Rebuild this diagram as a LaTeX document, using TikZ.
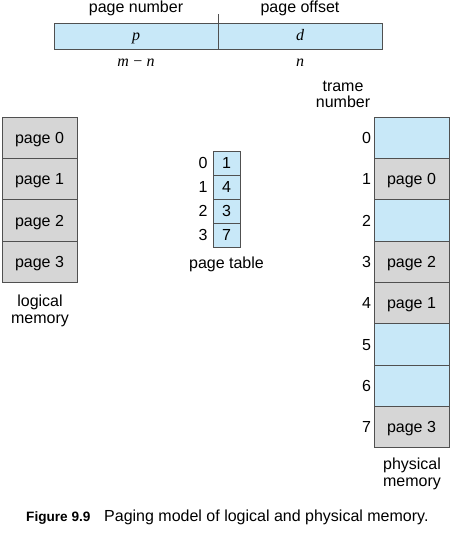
\documentclass[tikz,border=0pt]{standalone}
\usepackage{fontspec}
\setmainfont{Liberation Sans}
\newfontfamily\varfont{Liberation Serif}
\definecolor{memblue}{HTML}{C8E8F8}
\definecolor{memgray}{HTML}{D6D6D6}
\definecolor{memline}{HTML}{505050}
\newcommand{\var}[1]{{\varfont\itshape #1}}
\tikzset{
    lbl/.style={inner sep=0pt, anchor=base, font=\fontsize{16}{16.5}\selectfont, align=center},
    varlbl/.style={inner sep=0pt, anchor=base, font=\fontsize{16}{18}\selectfont},
    memcell/.style={draw=memline, line width=0.8pt, inner sep=0pt, outer sep=0pt, minimum width=75pt, minimum height=41.35pt,
        text height=11.5pt, text depth=0pt, font=\fontsize{16}{19}\selectfont},
    tabcell/.style={draw=memline, line width=0.8pt, fill=memblue, inner sep=0pt, outer sep=0pt, minimum width=27pt, minimum height=24pt,
        text height=11.5pt, text depth=0pt, font=\fontsize{16}{19}\selectfont},
    addrcell/.style={draw=memline, line width=0.8pt, fill=memblue, inner sep=0pt, outer sep=0pt, minimum width=164pt, minimum height=26pt,
        text height=10pt, text depth=0pt, font=\fontsize{16}{18}\selectfont},
    idx/.style={inner sep=0pt, text height=11.5pt, text depth=0pt, font=\fontsize{16}{19}\selectfont}
}
\begin{document}
\begin{tikzpicture}[x=1pt,y=-1pt]
        \useasboundingbox (0,0) rectangle (452,537);

        % logical address
        \node[addrcell] (p) at (136,36){\var{p}};
        \node[addrcell] (d) at (300,36){\var{d}};
        \coordinate (tick) at (218,14);
        \draw[memline, line width=0.8pt] (p.north east)--(tick);
        \node[lbl] (pnum) at (136,13){page number};
        \node[lbl] (poff) at (300,13){page offset};
        \node[varlbl] (mn) at (136,67){\var{m} {\varfont −} \var{n}};
        \node[varlbl] (n) at (300,67){\var{n}};

        % logical memory
        \node[memcell, fill=memgray] (L0) at (39.5,137.7){page 0};
        \node[memcell, fill=memgray] (L1) at (39.5,179.0){page 1};
        \node[memcell, fill=memgray] (L2) at (39.5,220.4){page 2};
        \node[memcell, fill=memgray] (L3) at (39.5,261.7){page 3};
        \node[lbl] (lmem) at (40,323){logical\\memory};

        % page table
        \node[tabcell] (T0) at (226.5,163){1};
        \node[tabcell] (T1) at (226.5,187){4};
        \node[tabcell] (T2) at (226.5,211){3};
        \node[tabcell] (T3) at (226.5,235){7};
        \node[idx] (i0) at (203,163){0};
        \node[idx] (i1) at (203,187){1};
        \node[idx] (i2) at (203,211){2};
        \node[idx] (i3) at (203,235){3};
        \node[lbl] (ptab) at (226.5,268){page table};

        % physical memory
        \node[lbl] (fnum) at (343,108){trame\\number};
        \node[memcell, fill=memblue] (F0) at (411.5,137.7){};
        \node[memcell, fill=memgray] (F1) at (411.5,179.0){page 0};
        \node[memcell, fill=memblue] (F2) at (411.5,220.4){};
        \node[memcell, fill=memgray] (F3) at (411.5,261.7){page 2};
        \node[memcell, fill=memgray] (F4) at (411.5,303.1){page 1};
        \node[memcell, fill=memblue] (F5) at (411.5,344.4){};
        \node[memcell, fill=memblue] (F6) at (411.5,385.8){};
        \node[memcell, fill=memgray] (F7) at (411.5,427.1){page 3};
        \node[idx] (f0) at (366.5,137.7){0};
        \node[idx] (f1) at (366.5,179.0){1};
        \node[idx] (f2) at (366.5,220.4){2};
        \node[idx] (f3) at (366.5,261.7){3};
        \node[idx] (f4) at (366.5,303.1){4};
        \node[idx] (f5) at (366.5,344.4){5};
        \node[idx] (f6) at (366.5,385.8){6};
        \node[idx] (f7) at (366.5,427.1){7};
        \node[lbl] (pmem) at (412,486){physical\\memory};

        % caption
        \node[inner sep=0pt, anchor=base west, font=\fontsize{13.6}{16}\selectfont\bfseries] (fig) at (26,521.7){Figure 9.9};
        \node[inner sep=0pt, anchor=base west, font=\fontsize{16}{18}\selectfont] (cap) at (104,521.7){Paging model of logical and physical memory.};
    \end{tikzpicture}
\end{document}
